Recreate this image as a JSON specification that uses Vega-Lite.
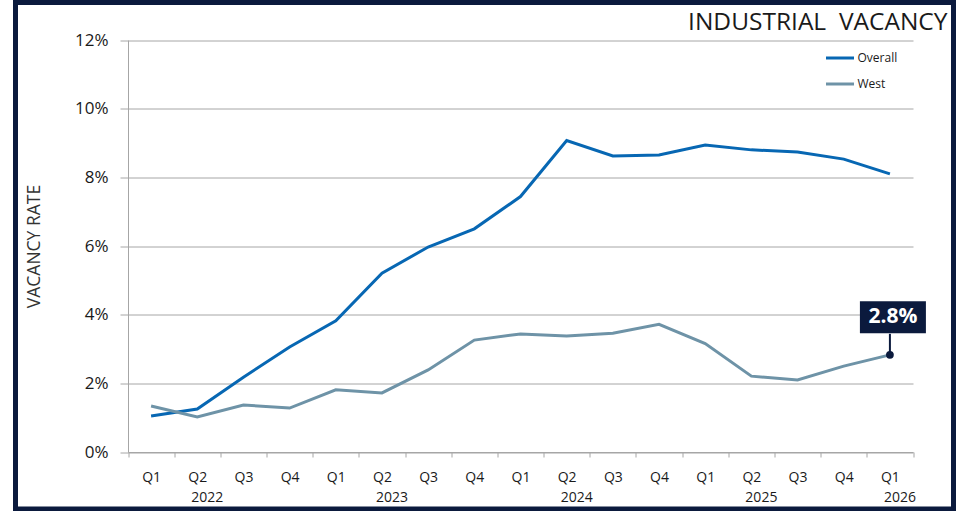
{
  "$schema": "https://vega.github.io/schema/vega-lite/v6.json",
  "autosize": {"type": "none"},
  "width": 938,
  "height": 506.5,
  "padding": {"left": 15.5, "top": 2.5, "right": 8.5, "bottom": 2},
  "background": "white",
  "config": {
    "font": "Open Sans",
    "view": {"fill": "white", "stroke": "#0b1a3d", "strokeWidth": 5},
    "axis": {"labelFont": "Open Sans", "titleFont": "Open Sans"}
  },
  "title": {
    "text": "INDUSTRIAL\u00a0\u00a0VACANCY",
    "anchor": "end",
    "frame": "group",
    "orient": "top",
    "offset": -33,
    "dx": -6,
    "fontSize": 24.5,
    "fontWeight": "normal",
    "font": "Open Sans",
    "color": "#1a1a1a"
  },
  "data": {
    "values": [
      {"q": "2022 Q1", "series": "Overall", "value": 0.0105},
      {"q": "2022 Q2", "series": "Overall", "value": 0.0125},
      {"q": "2022 Q3", "series": "Overall", "value": 0.0218},
      {"q": "2022 Q4", "series": "Overall", "value": 0.0306},
      {"q": "2023 Q1", "series": "Overall", "value": 0.0382},
      {"q": "2023 Q2", "series": "Overall", "value": 0.0521},
      {"q": "2023 Q3", "series": "Overall", "value": 0.0597},
      {"q": "2023 Q4", "series": "Overall", "value": 0.065},
      {"q": "2024 Q1", "series": "Overall", "value": 0.0744},
      {"q": "2024 Q2", "series": "Overall", "value": 0.0907},
      {"q": "2024 Q3", "series": "Overall", "value": 0.0862},
      {"q": "2024 Q4", "series": "Overall", "value": 0.0865},
      {"q": "2025 Q1", "series": "Overall", "value": 0.0894},
      {"q": "2025 Q2", "series": "Overall", "value": 0.088},
      {"q": "2025 Q3", "series": "Overall", "value": 0.0874},
      {"q": "2025 Q4", "series": "Overall", "value": 0.0853},
      {"q": "2026 Q1", "series": "Overall", "value": 0.081},
      {"q": "2022 Q1", "series": "West", "value": 0.0134},
      {"q": "2022 Q2", "series": "West", "value": 0.0102},
      {"q": "2022 Q3", "series": "West", "value": 0.0137},
      {"q": "2022 Q4", "series": "West", "value": 0.0128},
      {"q": "2023 Q1", "series": "West", "value": 0.0181},
      {"q": "2023 Q2", "series": "West", "value": 0.0172},
      {"q": "2023 Q3", "series": "West", "value": 0.0239},
      {"q": "2023 Q4", "series": "West", "value": 0.0326},
      {"q": "2024 Q1", "series": "West", "value": 0.0344},
      {"q": "2024 Q2", "series": "West", "value": 0.0338},
      {"q": "2024 Q3", "series": "West", "value": 0.0346},
      {"q": "2024 Q4", "series": "West", "value": 0.0372},
      {"q": "2025 Q1", "series": "West", "value": 0.0316},
      {"q": "2025 Q2", "series": "West", "value": 0.0221},
      {"q": "2025 Q3", "series": "West", "value": 0.021},
      {"q": "2025 Q4", "series": "West", "value": 0.025},
      {"q": "2026 Q1", "series": "West", "value": 0.0283}
    ]
  },
  "encoding": {
    "x": {
      "field": "q",
      "type": "ordinal",
      "sort": null,
      "scale": {"type": "band", "range": [112.5, 897.5], "paddingInner": 0, "paddingOuter": 0},
      "axis": {
        "title": null,
        "orient": "bottom",
        "offset": -57,
        "labelExpr": "split(datum.value, ' ')[1]",
        "labelAngle": 0,
        "labelFontSize": 14,
        "labelColor": "#1a1a1a",
        "labelPadding": 13,
        "labelBaseline": "top",
        "tickBand": "extent",
        "tickSize": 5,
        "tickColor": "#a6a6a6",
        "domainColor": "#a6a6a6",
        "grid": false
      }
    },
    "y": {
      "field": "value",
      "type": "quantitative",
      "scale": {"domain": [0, 0.12], "range": [449.5, 37.5], "nice": false},
      "axis": {
        "title": "VACANCY RATE",
        "orient": "left",
        "offset": -112.5,
        "values": [0, 0.02, 0.04, 0.06, 0.08, 0.1, 0.12],
        "format": ".0%",
        "labelFontSize": 17,
        "labelColor": "#1a1a1a",
        "labelPadding": 12,
        "tickSize": 8,
        "tickColor": "#a6a6a6",
        "domainColor": "#a6a6a6",
        "grid": true,
        "gridColor": "#a6a6a6",
        "titleFontSize": 17.5,
        "titleFontWeight": "normal",
        "titleColor": "#333333",
        "titlePadding": 31
      }
    }
  },
  "layer": [
    {
      "mark": {"type": "line", "strokeWidth": 3},
      "encoding": {
        "color": {
          "field": "series",
          "type": "nominal",
          "scale": {"domain": ["Overall", "West"], "range": ["#0767b3", "#6e93a7"]},
          "legend": {
            "title": null,
            "orient": "none",
            "legendX": 809,
            "legendY": 40,
            "symbolType": "stroke",
            "symbolSize": 784,
            "symbolStrokeWidth": 3,
            "labelFontSize": 12,
            "labelFont": "Open Sans",
            "labelColor": "#1a1a1a",
            "labelOffset": 2,
            "rowPadding": 4,
            "padding": 0
          }
        }
      }
    },
    {
      "transform": [{"filter": "datum.series == 'West' && datum.q == '2026 Q1'"}],
      "mark": {"type": "rule", "color": "#0b1a3d", "strokeWidth": 2, "y2Offset": -21},
      "encoding": {"y2": {"field": "value"}}
    },
    {
      "transform": [{"filter": "datum.series == 'West' && datum.q == '2026 Q1'"}],
      "mark": {"type": "point", "filled": true, "color": "#0b1a3d", "opacity": 1, "size": 60}
    },
    {
      "transform": [{"filter": "datum.series == 'West' && datum.q == '2026 Q1'"}],
      "mark": {
        "type": "point",
        "filled": true,
        "color": "#0b1a3d",
        "opacity": 1,
        "shape": "M-1,-0.485L1,-0.485L1,0.485L-1,0.485Z",
        "size": 4356,
        "yOffset": -37.5,
        "xOffset": 3
      }
    },
    {
      "transform": [{"filter": "datum.series == 'West' && datum.q == '2026 Q1'"}],
      "mark": {
        "type": "text",
        "color": "white",
        "fontSize": 21,
        "fontWeight": "bold",
        "font": "Open Sans",
        "baseline": "middle",
        "align": "center",
        "yOffset": -37.5,
        "xOffset": 3
      },
      "encoding": {"text": {"field": "value", "type": "quantitative", "format": ".1%"}}
    },
    {
      "transform": [
        {"filter": "datum.series == 'Overall' && indexof(['2022 Q2', '2023 Q2', '2024 Q2', '2025 Q2', '2026 Q1'], datum.q) >= 0"},
        {"calculate": "split(datum.q, ' ')[0]", "as": "yr"}
      ],
      "mark": {"type": "text", "fontSize": 14, "color": "#1a1a1a", "font": "Open Sans", "baseline": "middle", "align": "center", "yOffset": 46, "xOffset": 10},
      "encoding": {
        "y": {"datum": 0},
        "text": {"field": "yr", "type": "nominal"}
      }
    }
  ]
}
